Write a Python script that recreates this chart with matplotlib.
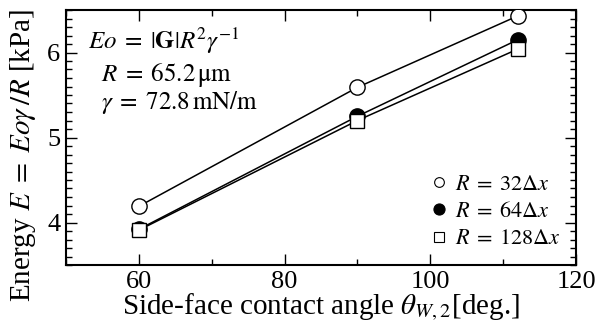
import matplotlib
matplotlib.use("Agg")
import matplotlib.pyplot as plt
from matplotlib.ticker import MultipleLocator
from matplotlib.lines import Line2D

plt.rcParams['font.family'] = ['Liberation Serif', 'DejaVu Serif']
plt.rcParams['mathtext.fontset'] = 'stix'

angles = [60, 90, 112]
e_32 = [4.19, 5.59, 6.43]
e_64 = [3.92, 5.25, 6.15]
e_128 = [3.91, 5.20, 6.04]
labels = [r'$R\;=\;32\Delta x$', r'$R\;=\;64\Delta x$', r'$R\;=\;128\Delta x$']

fig = plt.figure(figsize=(6.01, 3.31), dpi=100)
ax = fig.add_axes([66/601, 66/331, (576-66)/601, (265-10)/331])

ms = 11
ax.plot(angles, e_32, '-o', color='black', lw=1.1, mfc='white', mec='black', ms=ms, mew=1.0, zorder=3)
ax.plot(angles, e_64, '-o', color='black', lw=1.1, mfc='black', mec='black', ms=ms, mew=1.0, zorder=4)
ax.plot(angles, e_128, '-s', color='black', lw=1.1, mfc='white', mec='black', ms=ms-0.5, mew=1.0, zorder=5)

ax.set_xlim(50, 120)
ax.set_ylim(3.5, 6.5)
ax.xaxis.set_major_locator(MultipleLocator(20))
ax.xaxis.set_minor_locator(MultipleLocator(10))
ax.yaxis.set_major_locator(MultipleLocator(1))
ax.yaxis.set_minor_locator(MultipleLocator(0.1))
ax.tick_params(which='both', direction='in', top=True, right=True, labelsize=19, pad=4)
ax.tick_params(which='major', length=8, width=1.0)
ax.tick_params(which='minor', length=4, width=1.0)
for s in ax.spines.values():
    s.set_linewidth(1.5)

ax.set_xlabel(r'Side-face contact angle $\theta_{W,2}$[deg.]', fontsize=21, labelpad=-1)
ax.set_ylabel(r'Energy $E\;=\;Eo\gamma\,/R$ [kPa]', fontsize=21)
ax.yaxis.set_label_coords(-0.055, 0.43)

ax.text(22/510, 0.94, r'$Eo\;=\;\left|\mathbf{G}\right|R^2\gamma^{-1}$', transform=ax.transAxes, fontsize=18, va='top', ha='left')
ax.text(35/510, 0.80, r'$R\;=\;65.2\,\mathrm{\mu m}$', transform=ax.transAxes, fontsize=18, va='top', ha='left')
ax.text(35/510, 0.69, r'$\gamma\;=\;72.8\,\mathrm{mN/m}$', transform=ax.transAxes, fontsize=18, va='top', ha='left')

hs = [Line2D([], [], ls='none', marker='o', mfc='white', mec='black', ms=7, mew=0.8),
      Line2D([], [], ls='none', marker='o', mfc='black', mec='black', ms=8, mew=0.8),
      Line2D([], [], ls='none', marker='s', mfc='white', mec='black', ms=7, mew=0.8)]
ax.legend(hs, labels, loc='lower right', frameon=False, fontsize=16, handlelength=0.8,
          handletextpad=0.3, labelspacing=0.3, borderaxespad=0.3, bbox_to_anchor=(1.0, 0.0))

fig.savefig('out.png', dpi=100)
